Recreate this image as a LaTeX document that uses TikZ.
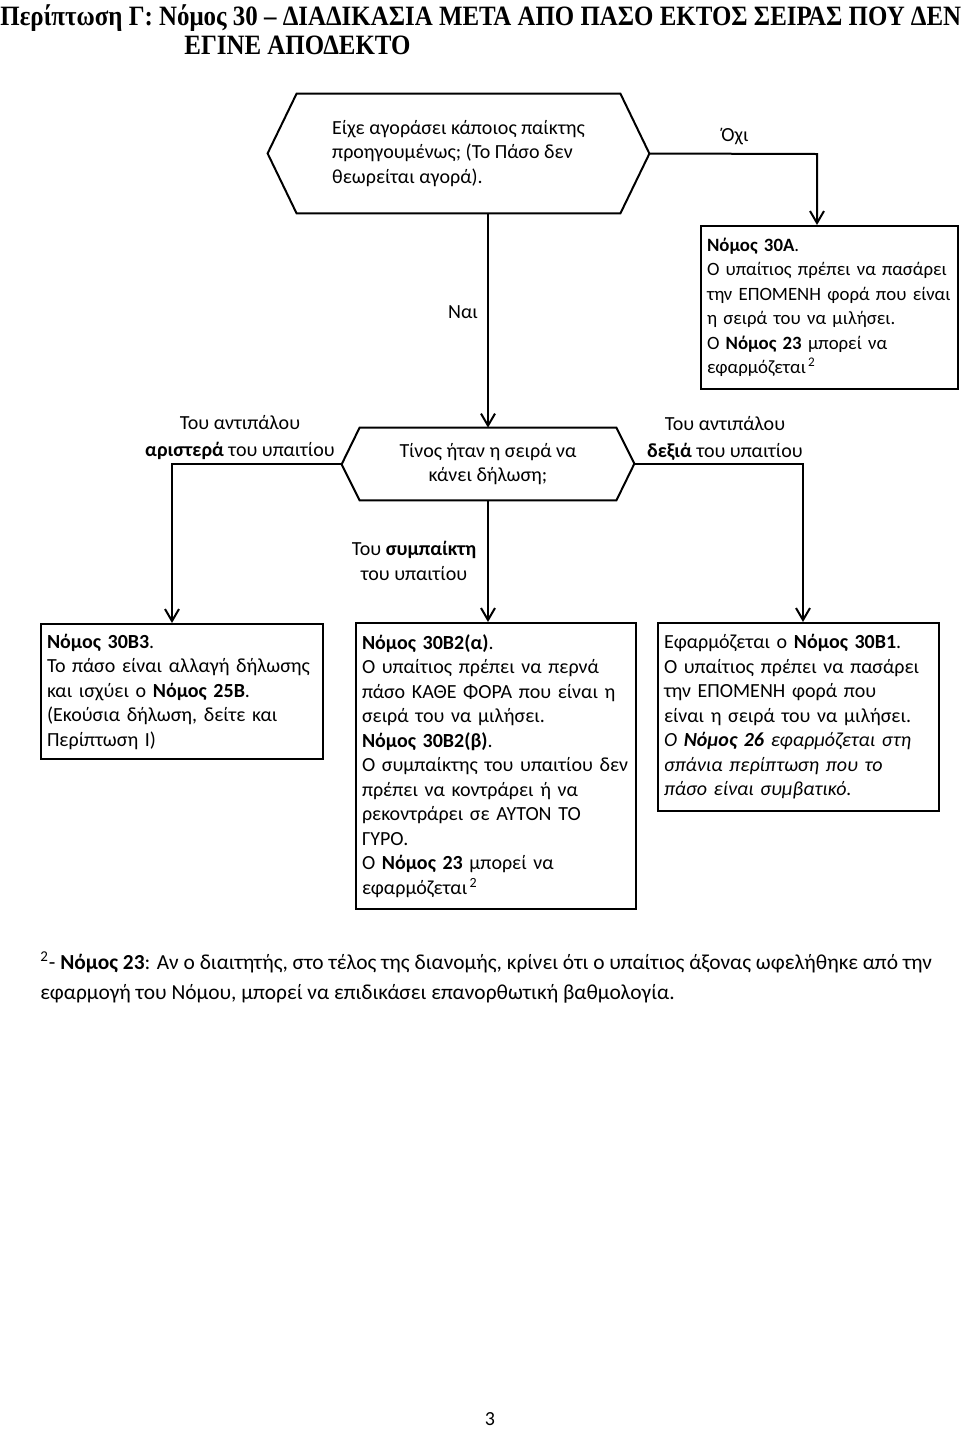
\documentclass[tikz,border=0pt]{standalone}
\usepackage{fontspec}
\setmainfont{Carlito}
\newfontfamily\titlefont[FakeStretch=0.89]{Liberation Serif}
\usetikzlibrary{arrows.meta}

\newcommand{\bodyfont}{\fontsize{10pt}{12.25pt}\selectfont}

\tikzset{
  lawbox/.style={draw, rectangle, line width=1pt, anchor=north west, align=left,
    inner xsep=3pt, inner ysep=2pt, font=\bodyfont},
  qbody/.style={rectangle, inner sep=0pt, font=\bodyfont},
  hexline/.style={line width=1pt, line join=miter},
  flow/.style={line width=1pt, -{Straight Barb[length=6pt,width=7pt,line width=1pt]}},
  lbl/.style={align=center, inner sep=1pt, font=\bodyfont},
  titletext/.style={anchor=base west, inner sep=0pt, font=\titlefont\bfseries\fontsize{14pt}{16pt}\selectfont},
  notetext/.style={anchor=base west, inner sep=0pt, font=\fontsize{10.7pt}{13pt}\selectfont},
}

\begin{document}
\begin{tikzpicture}[x=0.5pt, y=-0.5pt]

\useasboundingbox (0,0) rectangle (960,1436);

\begin{scope}

\def\qoneslant{29}
\def\qtwoslant{18}

% title
\node [titletext] (title1) at (0,25)
  {Περίπτωση Γ: Νόμος 30 – ΔΙΑΔΙΚΑΣΙΑ ΜΕΤΑ ΑΠΟ ΠΑΣΟ ΕΚΤΟΣ ΣΕΙΡΑΣ ΠΟΥ ΔΕΝ};
\node [titletext] (title2) at (184,54) {ΕΓΙΝΕ ΑΠΟΔΕΚΤΟ};

% first question
\node [qbody, align=left, minimum width=161.5pt, minimum height=59.5pt] (q1) at (458.5,153.5)
  {Είχε αγοράσει κάποιος παίκτης\\προηγουμένως; (Το Πάσο δεν\\θεωρείται αγορά).};
\draw [hexline] (q1.north west) -- (q1.north east) -- ++(\qoneslant,60) -- (q1.south east)
  -- (q1.south west) -- ++(-\qoneslant,-60) -- cycle;
\coordinate (q1e) at ([xshift=14.5pt]q1.east);

% second question
\node [qbody, align=center, minimum width=128pt, minimum height=36pt] (q2) at (488,464)
  {Τίνος ήταν η σειρά να\\κάνει δήλωση;};
\draw [hexline] (q2.north west) -- (q2.north east) -- ++(\qtwoslant,36) -- (q2.south east)
  -- (q2.south west) -- ++(-\qtwoslant,-36) -- cycle;
\coordinate (q2w) at ([xshift=-9pt]q2.west);
\coordinate (q2e) at ([xshift=9pt]q2.east);

% law boxes
\node [lawbox, text width=122.5pt, minimum height=81.5pt, font=\fontsize{9.4pt}{12.25pt}\selectfont] (b30a) at (700,225)
  {\textbf{Νόμος 30Α}.\\Ο υπαίτιος πρέπει να πασάρει\\την ΕΠΟΜΕΝΗ φορά που είναι\\η σειρά του να μιλήσει.\\Ο \textbf{Νόμος 23} μπορεί να\\εφαρμόζεται\textsuperscript{\,2}};
\node [lawbox, text width=135pt, minimum height=67.5pt] (b3) at (40,623)
  {\textbf{Νόμος 30Β3}.\\Το πάσο είναι αλλαγή δήλωσης\\και ισχύει ο \textbf{Νόμος 25Β}.\\(Εκούσια δήλωση, δείτε και\\Περίπτωση Ι)};
\node [lawbox, text width=134pt, minimum height=143pt] (b2) at (355,622)
  {\textbf{Νόμος 30Β2(α)}.\\Ο υπαίτιος πρέπει να περνά\\πάσο ΚΑΘΕ ΦΟΡΑ που είναι η\\σειρά του να μιλήσει.\\\textbf{Νόμος 30Β2(β)}.\\Ο συμπαίκτης του υπαιτίου δεν\\πρέπει να κοντράρει ή να\\ρεκοντράρει σε ΑΥΤΟΝ ΤΟ\\ΓΥΡΟ.\\Ο \textbf{Νόμος 23} μπορεί να\\εφαρμόζεται\textsuperscript{\,2}};
\node [lawbox, text width=134.5pt, minimum height=94pt] (b1) at (657,622)
  {Εφαρμόζεται ο \textbf{Νόμος 30Β1}.\\Ο υπαίτιος πρέπει να πασάρει\\την ΕΠΟΜΕΝΗ φορά που\\είναι η σειρά του να μιλήσει.\\\textit{Ο \textbf{Νόμος 26} εφαρμόζεται στη}\\\textit{σπάνια περίπτωση που το}\\\textit{πάσο είναι συμβατικό.}};

% connectors
\coordinate (nobend) at (817,154);
\coordinate (lbend) at (172,464);
\coordinate (rbend) at (803,464);
\draw [flow] (q1.south -| q2.north) -- (q2.north);
\draw [flow] (q1e) -- (nobend) -- (nobend |- b30a.north);
\draw [flow] (q2w) -- (lbend) -- (lbend |- b3.north);
\draw [flow] (q2e) -- (rbend) -- (rbend |- b1.north);
\draw [flow] (q2.south) -- (q2.south |- b2.north);

% branch labels
\node [lbl] (yes) at (463,312) {Ναι};
\node [lbl] (no) at (735,137) {Όχι};
\node [lbl, font=\fontsize{10pt}{13.5pt}\selectfont] (oppleft) at (240,438) {Του αντιπάλου\\\textbf{αριστερά} του υπαιτίου};
\node [lbl, font=\fontsize{10pt}{13.5pt}\selectfont] (oppright) at (725,438) {Του αντιπάλου\\\textbf{δεξιά} του υπαιτίου};
\node [lbl] (partner) at (414,561) {Του \textbf{συμπαίκτη}\\του υπαιτίου};

% footnote and page number
\node [notetext] (fn1) at (40,969)
  {\textsuperscript{2}- \textbf{Νόμος 23}: Αν ο διαιτητής, στο τέλος της διανομής, κρίνει ότι ο υπαίτιος άξονας ωφελήθηκε από την};
\node [notetext] (fn2) at (40,999)
  {εφαρμογή του Νόμου, μπορεί να επιδικάσει επανορθωτική βαθμολογία.};
\node [font=\bodyfont] (pagenum) at (490,1419) {3};

\end{scope}

\end{tikzpicture}
\end{document}
